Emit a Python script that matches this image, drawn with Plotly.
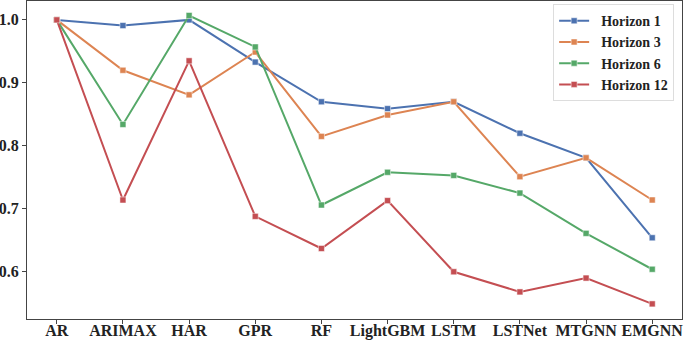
import plotly.graph_objects as go

models = ["AR", "ARIMAX", "HAR", "GPR", "RF", "LightGBM", "LSTM", "LSTNet", "MTGNN", "EMGNN"]
horizon1 = [1.0, 0.991, 1.0, 0.933, 0.870, 0.859, 0.870, 0.820, 0.781, 0.654]
horizon3 = [1.0, 0.920, 0.881, 0.949, 0.815, 0.849, 0.870, 0.751, 0.781, 0.714]
horizon6 = [1.0, 0.834, 1.007, 0.957, 0.706, 0.758, 0.753, 0.725, 0.661, 0.604]
horizon12 = [1.0, 0.714, 0.935, 0.688, 0.637, 0.713, 0.600, 0.568, 0.590, 0.549]
series_names = ["Horizon 1", "Horizon 3", "Horizon 6", "Horizon 12"]
colors = ["#4C72B0", "#DD8452", "#55A868", "#C44E52"]
y_ticks = [0.6, 0.7, 0.8, 0.9, 1.0]

font_family = "Liberation Serif, Times New Roman, serif"
xpos = list(range(len(models)))

fig = go.Figure()
for name, vals, c in zip(series_names, [horizon1, horizon3, horizon6, horizon12], colors):
    fig.add_trace(go.Scatter(
        x=xpos, y=vals, name=f"&nbsp;&nbsp;<b>{name}</b>", mode="lines+markers",
        line=dict(color=c, width=2),
        marker=dict(symbol="square", size=6, color=c, line=dict(color="white", width=0.5)),
    ))
# invisible trace to activate the label axis
fig.add_trace(go.Scatter(x=xpos, y=horizon1, xaxis="x2", mode="lines",
                         line=dict(width=0), opacity=0, showlegend=False, hoverinfo="skip"))

fig.update_layout(
    width=685, height=341,
    margin=dict(l=27, r=3, t=1, b=22, autoexpand=False),
    plot_bgcolor="white", paper_bgcolor="white",
    font=dict(family=font_family, size=16, color="#222"),
    showlegend=True,
    legend=dict(
        x=0.988, xanchor="right", y=0.99, yanchor="top",
        bgcolor="white", bordercolor="#dddddd", borderwidth=1,
        font=dict(family=font_family, size=14, color="#222"),
        itemwidth=30, tracegroupgap=0,
    ),
    xaxis=dict(
        range=[-0.45, 9.45], tickmode="array", tickvals=xpos, showticklabels=False,
        automargin=False, showgrid=False, zeroline=False, showline=True, mirror=True,
        linecolor="#444", linewidth=1.3, ticks="outside", ticklen=4, tickcolor="#444",
    ),
    xaxis2=dict(
        overlaying="x", anchor="free", position=0, side="bottom",
        range=[-0.45, 9.45], tickmode="array", tickvals=xpos,
        ticktext=[f"<b>{m}</b>" for m in models], automargin=False,
        showgrid=False, zeroline=False, showline=False, ticks="", ticklen=0,
        ticklabelstandoff=0,
        tickfont=dict(family=font_family, size=16, color="#222"),
    ),
    yaxis=dict(
        range=[0.525, 1.03], tickmode="array", tickvals=y_ticks,
        ticktext=[f"<b>{v:.1f}</b>" for v in y_ticks], automargin=False,
        showgrid=False, zeroline=False, showline=True, mirror=True, linecolor="#444", linewidth=1.3,
        ticks="outside", ticklen=4, tickcolor="#444", ticklabelstandoff=0,
        tickfont=dict(family=font_family, size=16, color="#222"),
    ),
)

fig.write_html("out.html", config={"displayModeBar": False},
               post_script="document.body.style.margin='0';document.body.style.overflow='hidden';")
